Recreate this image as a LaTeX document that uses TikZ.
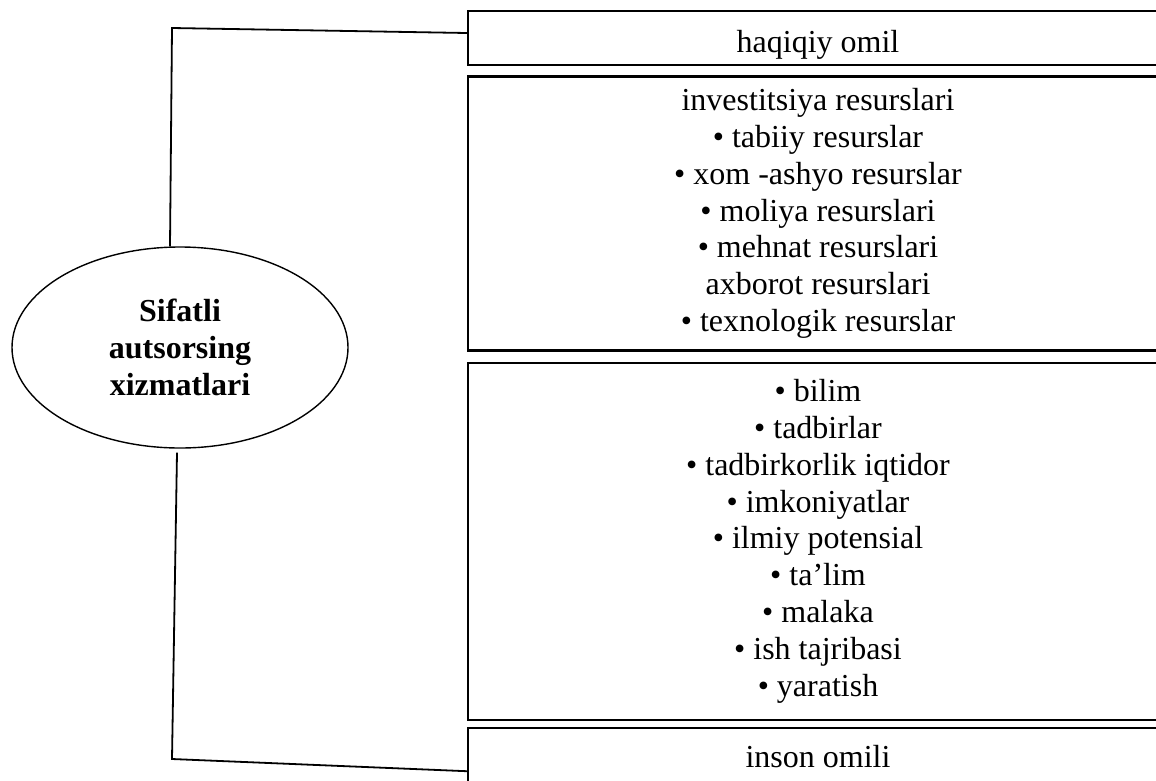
\documentclass[tikz,border=0pt]{standalone}
\usepackage{fontspec}
\setmainfont{Liberation Serif}
\usetikzlibrary{positioning}
\usetikzlibrary{shapes.geometric}

\begin{document}
\begin{tikzpicture}[x=1pt, y=-1pt,
                          ovalnode/.style={ellipse, draw, line width=1.4pt, minimum width=336pt, minimum height=201pt, inner sep=0pt, align=center, font=\fontsize{32}{36.8}\selectfont\bfseries},
                          squarednode/.style={rectangle, draw, line width=2.4pt, minimum width=700pt, align=center, font=\fontsize{32}{36.8}\selectfont},
                          linkline/.style={line width=1.8pt},
                      ]
                      \useasboundingbox (0,0) rectangle (1156,780);
                      % Nodes
                      \node[ovalnode]        (sifat)      at (180,347.5)         {Sifatli\\autsorsing\\xizmatlari};

                      \node[squarednode, minimum height=54pt, text height=30pt, text depth=2pt]      (haqiqiy)      at (818,38)   {haqiqiy omil};
                      \node[squarednode, minimum height=274pt]     (resurs)       [below=9pt of haqiqiy]   {investitsiya resurslari\\• tabiiy resurslar\\• xom -ashyo resurslar\\• moliya resurslari\\• mehnat resurslari\\axborot resurslari\\• texnologik resurslar};
                      \node[squarednode, minimum height=357pt]     (salohiyat)    [below=10pt of resurs]   {• bilim\\• tadbirlar\\• tadbirkorlik iqtidor\\• imkoniyatlar\\• ilmiy potensial\\• ta’lim\\• malaka\\• ish tajribasi\\• yaratish};
                      \node[squarednode, minimum height=62pt, text height=24pt, text depth=8pt]      (inson)        [below=6pt of salohiyat]   {inson omili};

                      \coordinate (top_corner) at (172,28);
                      \coordinate (bot_corner) at (172,759);

                      %Lines
                      \draw[linkline] ([xshift=-10pt]sifat.north) -- (top_corner) -- ([yshift=5pt]haqiqiy.west);
                      \draw[linkline] ([xshift=-3pt, yshift=-4pt]sifat.south) -- (bot_corner) -- ([yshift=-12pt]inson.west);
                  \end{tikzpicture}
\end{document}
